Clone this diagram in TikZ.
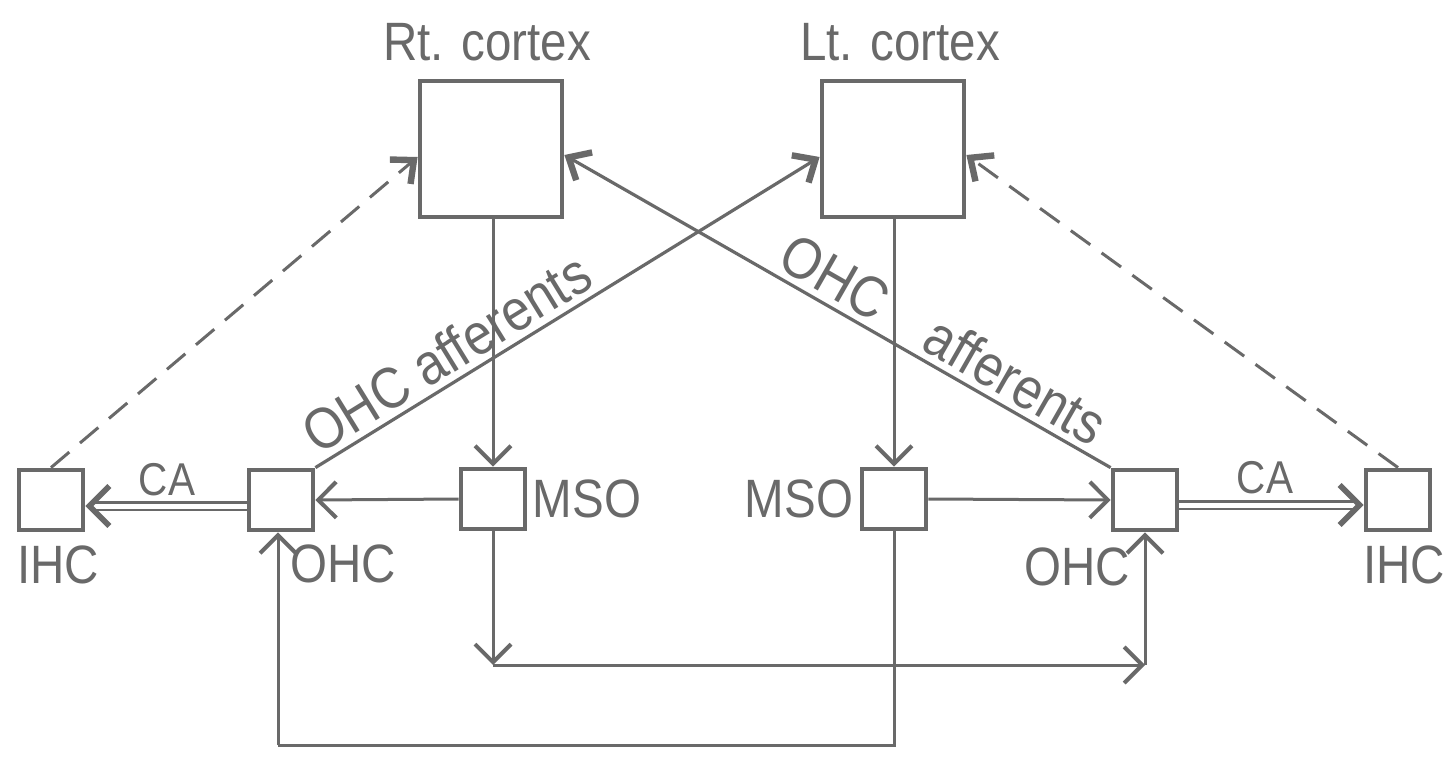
\documentclass[tikz,border=0pt]{standalone}
\usepackage{fontspec}
\setmainfont[FakeStretch=0.88]{Liberation Sans}
\usetikzlibrary{arrows.meta}
\definecolor{ink}{RGB}{105,105,105}
\begin{document}
\begin{tikzpicture}[x=0.5pt,y=-0.5pt,
  box/.style={draw=ink, line width=2.4pt, inner sep=0pt, minimum width=32pt, minimum height=30pt},
  cbox/.style={draw=ink, line width=2.4pt, inner sep=0pt, minimum width=71pt, minimum height=68pt},
  lbl/.style={text=ink, font=\fontsize{27}{30}\selectfont, inner sep=0pt},
  alb/.style={text=ink, font=\fontsize{29}{32}\selectfont, inner sep=0pt, sloped, above=3pt},
  slbl/.style={text=ink, font=\fontsize{23}{26}\selectfont, inner sep=0pt},
  tip/.tip={Straight Barb[length=9pt, width=18pt, line width=2pt]},
  ctip/.tip={Straight Barb[length=9pt, width=16pt, line width=3.2pt]},
  arr/.style={draw=ink, line width=1.5pt, -tip},
  carr/.style={draw=ink, line width=1.6pt, -ctip},
  rcarr/.style={draw=ink, line width=1.6pt, ctip-},
  dsh/.style={draw=ink, line width=1.5pt, dash pattern=on 12pt off 7pt, -ctip},
  plain/.style={draw=ink, line width=1.5pt},
  dbl/.style={draw=ink, line width=1.4pt, double=white, double distance=2.5pt, -{Straight Barb[length=10pt, width=20pt, line width=2.8pt]}}
]
\fill[white] (0,0) rectangle (1454,759);
\useasboundingbox (0,0) rectangle (1454,759);

% boxes
\node[cbox] (rt) at (491,149) {};
\node[cbox] (lt) at (893,149) {};
\node[box] (msoL) at (493,499) {};
\node[box] (msoR) at (894,499) {};
\node[box] (ohcL) at (281,500) {};
\node[box] (ohcR) at (1145,500) {};
\node[box] (ihcL) at (51,500) {};
\node[box] (ihcR) at (1398,500) {};

% labels
\node[lbl] (tRt) at (487,42) {Rt. cortex};
\node[lbl] (tLt) at (900,42) {Lt. cortex};
\node[lbl] (tMsoL) at (587,499) {MSO};
\node[lbl] (tMsoR) at (799,499) {MSO};
\node[lbl] (tIhcL) at (58,565) {IHC};
\node[lbl] (tIhcR) at (1404,565) {IHC};
\node[lbl] (tOhcL) at (343,564) {OHC};
\node[lbl] (tOhcR) at (1077,567) {OHC};
\node[slbl] (tCaL) at (167,480) {CA};
\node[slbl] (tCaR) at (1265,478) {CA};

% cortex to MSO
\draw[arr] (rt.south -| msoL) -- (msoL.north);
\draw[arr] (lt.south -| msoR) -- (msoR.north);

% MSO to OHC
\draw[arr] (msoL.west) -- (ohcL.east);
\draw[arr] (msoR.east) -- (ohcR.west);

% CA double
\draw[dbl] ([yshift=-3pt]ohcL.west) -- ([yshift=-3pt]ihcL.east);
\draw[dbl] ([yshift=-2.5pt]ohcR.east) -- ([yshift=-2.5pt]ihcR.west);

% OHC afferents
\draw[carr] (ohcL.north east) -- node[alb, pos=0.29] {OHC afferents} ([yshift=-4pt]lt.west);
\draw[rcarr] ([yshift=-3pt]rt.east) -- node[alb, pos=0.47] {OHC} node[alb, pos=0.8] {afferents} (ohcR.north west);

% dashed IHC
\draw[dsh] (ihcL.north) -- ([yshift=-4pt]rt.west);
\draw[dsh] (ihcR.north) -- ([yshift=-3pt]lt.east);

% bottom loops
\coordinate (c1) at (493,665);
\coordinate (c2) at (1145,665);
\coordinate (c3) at (894,745);
\coordinate (c4) at (278,745);
\draw[arr] (msoL.south) -- (c1);
\draw[arr] (c1) -- (c2);
\draw[arr] (c2) -- (ohcR.south);
\draw[plain] (msoR.south) -- (c3) -- (c4);
\draw[arr] (c4) -- (c4 |- ohcL.south);
\end{tikzpicture}
\end{document}
